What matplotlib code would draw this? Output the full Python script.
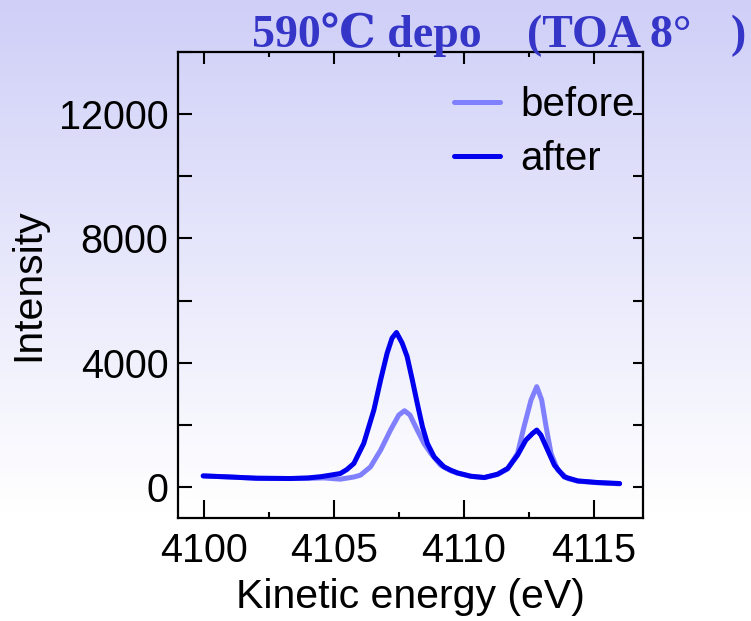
import numpy as np
import matplotlib
matplotlib.use("Agg")
import matplotlib.pyplot as plt
from matplotlib.ticker import MultipleLocator

# ---- data ----
after_x = [4099.97, 4101.0, 4102.03, 4103.32, 4104.0, 4104.5, 4104.8, 4105.25, 4105.5, 4105.77,
           4106.15, 4106.54, 4106.80, 4107.05, 4107.24, 4107.41, 4107.63, 4107.82, 4108.02,
           4108.21, 4108.41, 4108.60, 4108.86, 4109.24, 4109.50, 4109.76, 4110.27, 4110.79,
           4111.30, 4111.69, 4112.07, 4112.39, 4112.65, 4112.81, 4112.97, 4113.23, 4113.49,
           4113.87, 4114.39, 4115.16, 4116.0]
after_y = [355, 320, 280, 271, 290, 330, 370, 432, 560, 755,
           1400, 2476, 3444, 4306, 4790, 4971, 4629, 4196, 3444,
           2692, 1937, 1400, 968, 646, 539, 452, 345, 303,
           410, 594, 1023, 1507, 1724, 1830, 1669, 1185, 700,
           323, 194, 142, 110]

before_x = [4099.97, 4101.0, 4102.03, 4103.32, 4104.0, 4104.61, 4105.25, 4105.77, 4106.02,
            4106.41, 4106.80, 4107.18, 4107.50, 4107.72, 4107.93, 4108.21, 4108.47, 4108.73,
            4109.11, 4109.50, 4109.76, 4110.27, 4110.79, 4111.30, 4111.69, 4112.07, 4112.32,
            4112.59, 4112.81, 4113.00, 4113.17, 4113.36, 4113.62, 4114.00, 4114.39, 4115.16,
            4116.0]
before_y = [355, 320, 280, 271, 275, 290, 250, 320, 377,
            646, 1185, 1830, 2314, 2453, 2314, 1830, 1400, 1078,
            700, 520, 440, 340, 300, 400, 580, 1078, 1937,
            2799, 3228, 2799, 1937, 1078, 539, 271, 185, 135,
            100]

x_ticks = [4100, 4105, 4110, 4115]
y_ticks = [0, 4000, 8000, 12000]

W, H, DPI = 751, 621, 100
fig = plt.figure(figsize=(W / DPI, H / DPI), dpi=DPI)

# background gradient
bg = fig.add_axes([0, 0, 1, 1], zorder=-10)
top = np.array([207, 207, 248]) / 255.0
bot = np.array([255, 255, 255]) / 255.0
t = np.linspace(0, 1, 256)[:, None]
t = np.clip(t / 0.82, 0, 1)
grad = top[None, None, :] * (1 - t[:, :, None]) + bot[None, None, :] * t[:, :, None]
grad = np.repeat(grad, 4, axis=1)
bg.imshow(grad, aspect='auto', extent=[0, 1, 0, 1], origin='upper')
bg.axis('off')

font = ['Liberation Sans', 'DejaVu Sans']
plt.rcParams['font.family'] = font

ax = fig.add_axes([178 / W, 1 - 518 / H, (643 - 178) / W, (518 - 52) / H])
ax.set_facecolor('none')

ax.plot(before_x, before_y, color='#8080ff', lw=3.6, label='before', solid_capstyle='round')
ax.plot(after_x, after_y, color='#0000ee', lw=3.6, label='after', solid_capstyle='round')

ax.set_xlim(4099.0, 4116.9)
ax.set_ylim(-1000, 14000)
ax.set_xticks(x_ticks)
ax.set_yticks(y_ticks)
ax.xaxis.set_minor_locator(MultipleLocator(2.5))
ax.yaxis.set_minor_locator(MultipleLocator(2000))

for s in ax.spines.values():
    s.set_linewidth(1.6)

ax.tick_params(axis='both', which='both', direction='in', top=True, right=True,
               width=1.5, labelsize=28.5, colors='black')
ax.tick_params(axis='x', which='major', length=13, pad=10)
ax.tick_params(axis='x', which='minor', length=4.3)
ax.tick_params(axis='y', which='both', length=10, pad=7)

# fine-tune opposite-side tick lengths
for tk in ax.xaxis.get_major_ticks():
    tk.tick2line.set_markersize(8.6)
for tk in ax.xaxis.get_minor_ticks():
    tk.tick2line.set_markersize(3.6)
for tk in ax.yaxis.get_major_ticks() + ax.yaxis.get_minor_ticks():
    tk.tick2line.set_markersize(7.2)

ax.set_xlabel('Kinetic energy (eV)', fontsize=29.5, labelpad=6)
ax.set_ylabel('Intensity', fontsize=29.5, labelpad=8)

leg = ax.legend(loc='upper right', frameon=False, fontsize=29, handlelength=1.15,
                handletextpad=0.5, labelspacing=0.4, borderaxespad=0.0,
                bbox_to_anchor=(1.017, 0.962))

title_fam = ['Liberation Serif', 'DejaVu Serif', 'Noto Sans CJK JP']
tc = '#3535c8'
fig.text(252 / W, 1 - 47 / H, '590℃ depo', fontsize=33, fontweight='bold',
         color=tc, family=title_fam, va='baseline', ha='left')
fig.text(527 / W, 1 - 47 / H, '(TOA 8°', fontsize=33, fontweight='bold',
         color=tc, family=title_fam, va='baseline', ha='left')
fig.text(731 / W, 1 - 47 / H, ')', fontsize=33, fontweight='bold',
         color=tc, family=title_fam, va='baseline', ha='left')

fig.savefig('out.png', dpi=DPI)
